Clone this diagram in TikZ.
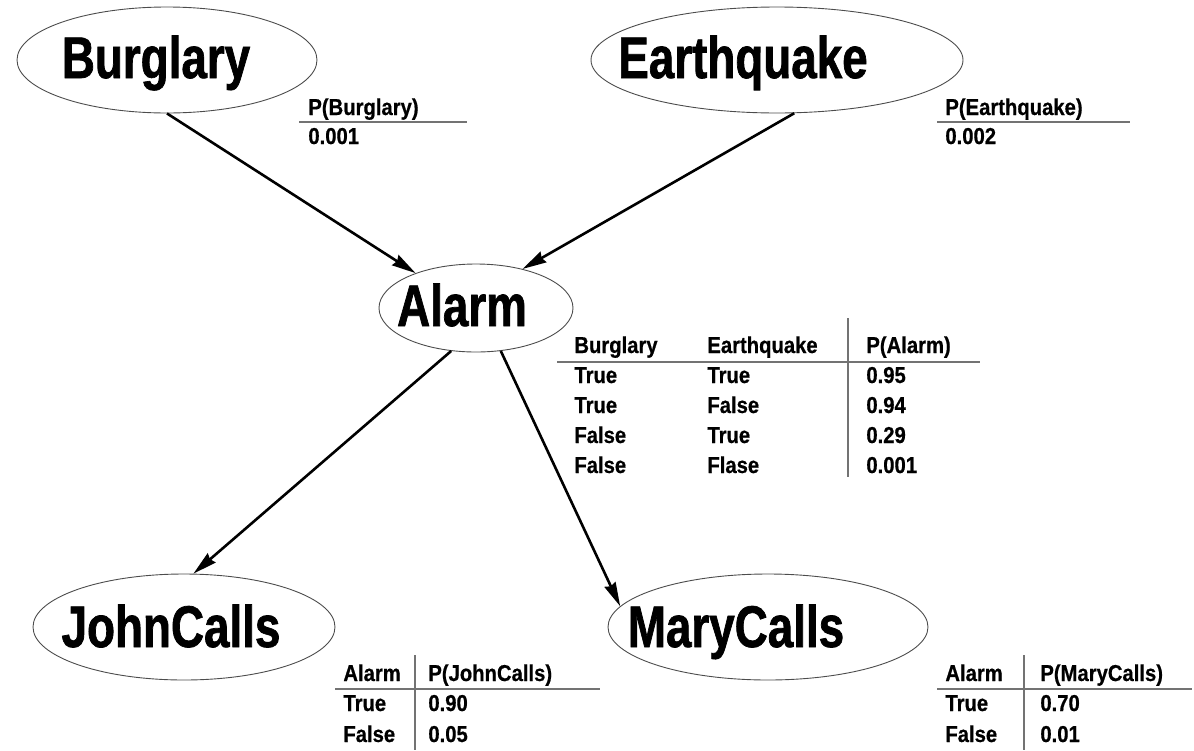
\documentclass[tikz,border=0pt]{standalone}
\usepackage{fontspec}
\setmainfont{Liberation Sans}
\newfontfamily\varfont{Liberation Sans}[FakeStretch=0.78, BoldFeatures={FakeBold=1.2}]
\newfontfamily\cptfont{Liberation Sans}[FakeStretch=0.88, BoldFeatures={FakeBold=0.6}]
\usetikzlibrary{shapes.geometric, arrows.meta}

\tikzset{
  var/.style={draw=black!70, line width=0.9pt, ellipse, inner sep=0pt},
  varname/.style={inner sep=0pt, text height=42pt, text depth=0pt,
    font=\varfont\bfseries\fontsize{58.7}{60}\selectfont},
  cpt/.style={anchor=base west, inner sep=0pt,
    font=\cptfont\bfseries\fontsize{23}{24}\selectfont},
  rule/.style={draw=black!55, line width=1.1pt},
  link/.style={line width=2.6pt, -{Stealth[length=24pt, width=12pt, inset=2pt]}},
}

\begin{document}
\begin{tikzpicture}[x=1pt, y=-1pt, thick]
  \useasboundingbox (0,0) rectangle (1194,750);

  % 五个变量的椭圆
  \node[var, minimum width=300pt, minimum height=106pt] (burglary) at (167,60) {};
  \node[var, minimum width=372pt, minimum height=106pt] (quake) at (777,60) {};
  \node[var, minimum width=194pt, minimum height=88pt] (alarm) at (476,308) {};
  \node[var, minimum width=302pt, minimum height=106pt] (john) at (184,627) {};
  \node[var, minimum width=320pt, minimum height=106pt] (mary) at (768,627) {};

  % 椭圆内的变量名
  \node[varname] (burglary-name) at (156,57) {Burglary};
  \node[varname] (quake-name) at (743,57) {Earthquake};
  \node[varname] (alarm-name) at (462,305) {Alarm};
  \node[varname] (john-name) at (171,626) {JohnCalls};
  \node[varname] (mary-name) at (736,626) {MaryCalls};

  % 有向边
  \draw[link] (burglary.south) -- (alarm.150);
  \draw[link] (quake.288) -- (alarm.40);
  \draw[link] (alarm.240) -- (john.80);
  \draw[link] (alarm.300) -- (mary.172);

  % P(Burglary)
  \node[cpt] (pb-head) at (308,115) {P(Burglary)};
  \node[cpt] (pb-val) at (308,144) {0.001};
  \draw[rule] (299,122) -- (467,122);

  % P(Earthquake)
  \node[cpt] (pe-head) at (945,115) {P(Earthquake)};
  \node[cpt] (pe-val) at (945,144) {0.002};
  \draw[rule] (937,122) -- (1130,122);

  % P(Alarm | Burglary, Earthquake)
  \node[cpt] (pa-b) at (574,353) {Burglary};
  \node[cpt] (pa-e) at (707,353) {Earthquake};
  \node[cpt] (pa-p) at (866,353) {P(Alarm)};
  \node[cpt] (pa-b1) at (574,383) {True};
  \node[cpt] (pa-e1) at (707,383) {True};
  \node[cpt] (pa-p1) at (866,383) {0.95};
  \node[cpt] (pa-b2) at (574,413) {True};
  \node[cpt] (pa-e2) at (707,413) {False};
  \node[cpt] (pa-p2) at (866,413) {0.94};
  \node[cpt] (pa-b3) at (574,443) {False};
  \node[cpt] (pa-e3) at (707,443) {True};
  \node[cpt] (pa-p3) at (866,443) {0.29};
  \node[cpt] (pa-b4) at (574,473) {False};
  \node[cpt] (pa-e4) at (707,473) {Flase};
  \node[cpt] (pa-p4) at (866,473) {0.001};
  \draw[rule] (557,362) -- (980,362);
  \draw[rule] (848,318) -- (848,477);

  % P(JohnCalls | Alarm)
  \node[cpt] (pj-a) at (343,681) {Alarm};
  \node[cpt] (pj-p) at (428,681) {P(JohnCalls)};
  \node[cpt] (pj-a1) at (343,711) {True};
  \node[cpt] (pj-p1) at (428,711) {0.90};
  \node[cpt] (pj-a2) at (343,742) {False};
  \node[cpt] (pj-p2) at (428,742) {0.05};
  \draw[rule] (335,689) -- (600,689);
  \draw[rule] (415,655) -- (415,750);

  % P(MaryCalls | Alarm)
  \node[cpt] (pm-a) at (945,681) {Alarm};
  \node[cpt] (pm-p) at (1040,681) {P(MaryCalls)};
  \node[cpt] (pm-a1) at (945,711) {True};
  \node[cpt] (pm-p1) at (1040,711) {0.70};
  \node[cpt] (pm-a2) at (945,742) {False};
  \node[cpt] (pm-p2) at (1040,742) {0.01};
  \draw[rule] (937,689) -- (1192,689);
  \draw[rule] (1024,655) -- (1024,750);
\end{tikzpicture}
\end{document}
